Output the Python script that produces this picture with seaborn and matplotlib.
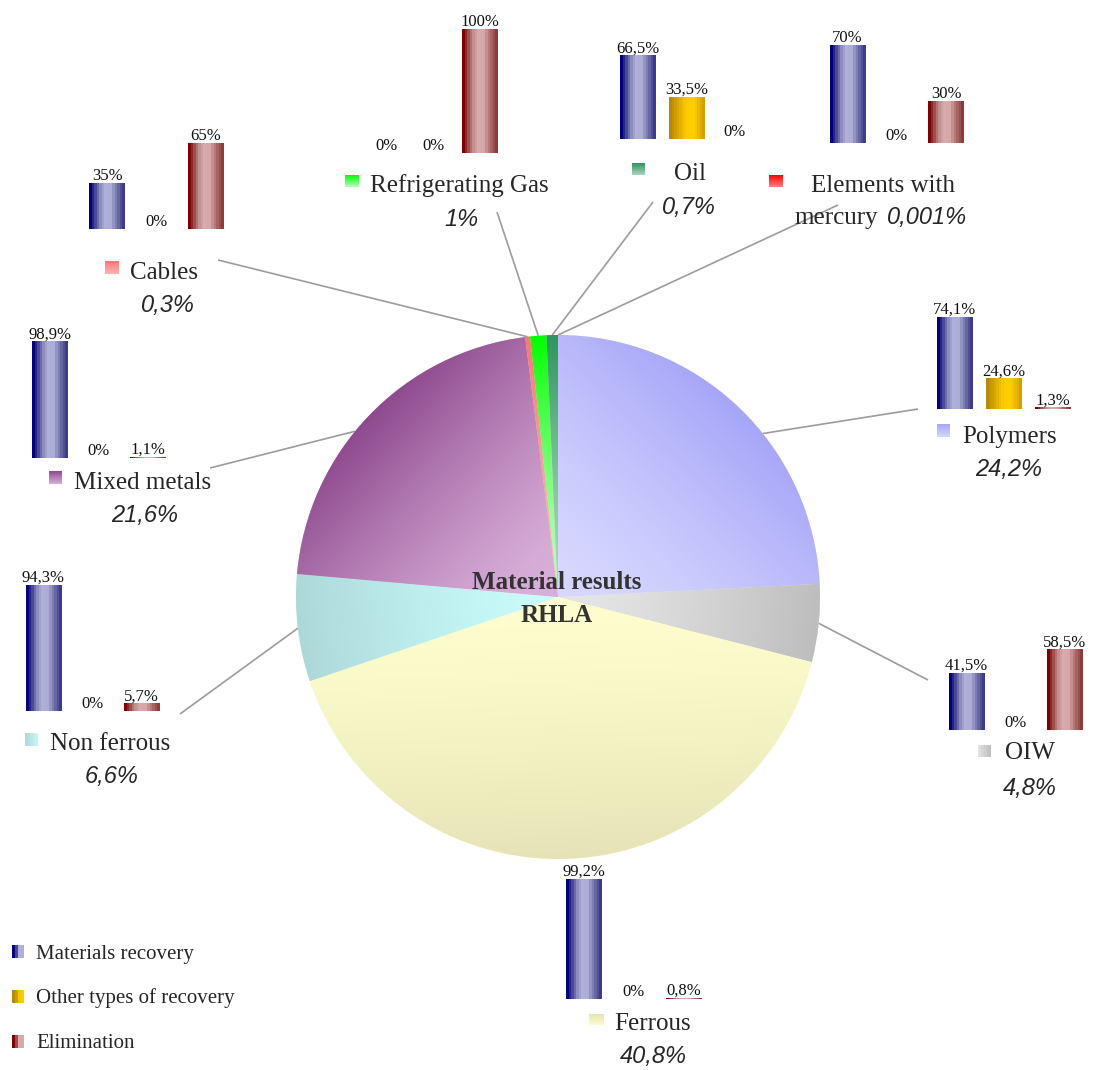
import numpy as np
import pandas as pd
import matplotlib
matplotlib.use("Agg")
import matplotlib.pyplot as plt
from matplotlib.colors import LinearSegmentedColormap
import seaborn as sns

# ---------------- data ----------------
categories = ["Polymers", "OIW", "Ferrous", "Non ferrous", "Mixed metals",
              "Cables", "Refrigerating Gas", "Oil", "Elements with mercury"]
shares = [24.2, 4.8, 40.8, 6.6, 21.6, 0.3, 1.0, 0.7, 0.001]

treatments = ["Materials recovery", "Other types of recovery", "Elimination"]
polymers_split = [74.1, 24.6, 1.3]
oiw_split = [41.5, 0.0, 58.5]
ferrous_split = [99.2, 0.0, 0.8]
non_ferrous_split = [94.3, 0.0, 5.7]
mixed_metals_split = [98.9, 0.0, 1.1]
cables_split = [35.0, 0.0, 65.0]
refrigerating_gas_split = [0.0, 0.0, 100.0]
oil_split = [66.5, 33.5, 0.0]
mercury_split = [70.0, 0.0, 30.0]

splits = {
    "Polymers": polymers_split, "OIW": oiw_split, "Ferrous": ferrous_split,
    "Non ferrous": non_ferrous_split, "Mixed metals": mixed_metals_split,
    "Cables": cables_split, "Refrigerating Gas": refrigerating_gas_split,
    "Oil": oil_split, "Elements with mercury": mercury_split,
}

# ---------------- styling ----------------
W, H = 1093, 1070
sns.set_theme(style="white")
plt.rcParams["font.family"] = ["Liberation Serif", "DejaVu Serif"]
SERIF = ["Liberation Serif", "DejaVu Serif"]
SANS = ["Liberation Sans", "DejaVu Sans"]

# pie slice gradients: (near centre, rim)
slice_shades = {
    "Polymers": ("#d6d6ff", "#a6a6f8"),
    "OIW": ("#e4e4e4", "#bdbdbd"),
    "Ferrous": ("#fcfccc", "#e6e4b6"),
    "Non ferrous": ("#c8fafa", "#acd8d8"),
    "Mixed metals": ("#d8aed8", "#8e4a8e"),
    "Cables": ("#ffb4b4", "#ff7474"),
    "Refrigerating Gas": ("#b4ffb4", "#00ff00"),
    "Oil": ("#a8d4b8", "#2e9460"),
    "Elements with mercury": ("#ff8080", "#ff0000"),
}

treatment_bands = {
    "Materials recovery": [(0, "#000080"), (0.12, "#3a3a8c"), (0.3, "#8c8cbc"),
                           (0.45, "#b0b0d8"), (0.62, "#acacd4"), (0.8, "#7474ac"),
                           (1, "#3c3c8c")],
    "Other types of recovery": [(0, "#b88a00"), (0.25, "#dcaa00"), (0.5, "#ffcc00"),
                                (0.72, "#ffcc00"), (1, "#d4a200")],
    "Elimination": [(0, "#800000"), (0.12, "#984040"), (0.3, "#c09090"),
                    (0.45, "#d8acac"), (0.62, "#d4a8a8"), (0.8, "#b07070"),
                    (1, "#8c3c3c")],
}
treatment_cmaps = {k: LinearSegmentedColormap.from_list(k, v)
                   for k, v in treatment_bands.items()}
treatment_palette = {k: treatment_cmaps[k](0.5) for k in treatments}

# pie geometry (pixels from top-left)
CX, CY, R = 558, 597, 262

# bar inset geometry: first bar centre, bar pitch, baseline, pixels per 100 %
BAR_PX = 36
bar_layout = {
    "Polymers": (954.5, 49, 409, 124),
    "OIW": (966.5, 49, 730, 138),
    "Ferrous": (583.5, 50, 999, 121),
    "Non ferrous": (43.5, 49, 711, 134),
    "Mixed metals": (50, 49, 458, 118),
    "Cables": (107, 49.5, 229, 132),
    "Refrigerating Gas": (387, 46.5, 153, 124),
    "Oil": (638, 48.5, 139, 126),
    "Elements with mercury": (847.5, 49.5, 143, 140),
}

# label layout: marker box (x0, x1, y0, y1), name (x, baseline), pct (x, baseline, ha)
label_layout = {
    "Polymers": ((937, 950, 424, 437), (962, 443), (1009, 476, "center")),
    "OIW": ((978, 991, 745, 757), (1005, 759), (1030, 795, "center")),
    "Ferrous": ((589, 604, 1014, 1025), (614, 1030), (653, 1063, "center")),
    "Non ferrous": ((25, 38, 733, 746), (50, 750), (112, 783, "center")),
    "Mixed metals": ((49, 62, 471, 484), (74, 489), (145, 522, "center")),
    "Cables": ((105, 119, 261, 274), (130, 279), (168, 312, "center")),
    "Refrigerating Gas": ((345, 359, 175, 187), (370, 192), (461, 226, "center")),
    "Oil": ((632, 645, 163, 175), (674, 180), (689, 214, "center")),
    "Elements with mercury": ((769, 783, 175, 187), (811, 192), (887, 224, "left")),
}

# leader lines: outer end (pixels) and position inside the wedge (0..1 clockwise)
leaders = {
    "Polymers": ((918, 409), 0.59),
    "OIW": ((928, 680), 0.5),
    "Non ferrous": ((180, 714), 0.5),
    "Mixed metals": ((210, 468), 0.44),
    "Cables": ((218, 260), 0.5),
    "Refrigerating Gas": ((497, 212), 0.5),
    "Oil": ((653, 202), 0.5),
    "Elements with mercury": ((838, 205), 0.5),
}


def Y(py):
    return H - py


def pct_text(v):
    return f"{v:g}".replace(".", ",") + "%"


fig = plt.figure(figsize=(W / 100, H / 100), dpi=100)
ax = fig.add_axes([0, 0, 1, 1])

# ---------------- pie ----------------
wedges, _ = ax.pie(shares, startangle=90, counterclock=False,
                   center=(CX, Y(CY)), radius=R,
                   colors=[slice_shades[c][0] for c in categories],
                   wedgeprops=dict(linewidth=0))

n = 2 * R
gx, gy = np.meshgrid(np.linspace(CX - R, CX + R, n), np.linspace(Y(CY) - R, Y(CY) + R, n))
for cat, wedge in zip(categories, wedges):
    mid = np.deg2rad(0.5 * (wedge.theta1 + wedge.theta2))
    t = ((gx - CX) * np.cos(mid) + (gy - Y(CY)) * np.sin(mid)) / R
    t = np.clip((t - 0.1) / 0.9, 0, 1) ** 1.3
    cmap = LinearSegmentedColormap.from_list(cat, slice_shades[cat])
    im = ax.imshow(cmap(t), extent=[CX - R, CX + R, Y(CY) - R, Y(CY) + R],
                   origin="lower", interpolation="bilinear", zorder=2, aspect="auto")
    im.set_clip_path(wedge)

# leader lines from the rim of each wedge
wedge_of = dict(zip(categories, wedges))
for cat, ((lx, ly), frac) in leaders.items():
    w = wedge_of[cat]
    ang = np.deg2rad(w.theta2 - frac * (w.theta2 - w.theta1))
    px, py = CX + R * np.cos(ang), Y(CY) + R * np.sin(ang)
    ax.plot([lx, px], [Y(ly), py], color="#9c9c9c", lw=1.2, zorder=1,
            solid_capstyle="butt")

# centre title
ax.text(CX - 1, Y(589), "Material results", ha="center", va="baseline",
        fontsize=18, fontweight="bold", color="#333333", family=SERIF, zorder=5)
ax.text(CX - 1, Y(622), "RHLA", ha="center", va="baseline",
        fontsize=18, fontweight="bold", color="#333333", family=SERIF, zorder=5)


def gradient_box(axis, x0, x1, y0, y1, colors, horizontal=False, bands=None, z=4):
    cmap = LinearSegmentedColormap.from_list("g", colors)
    if horizontal:
        arr = cmap(np.linspace(0, 1, bands or 32))[None, :, :]
    else:
        arr = cmap(np.linspace(0, 1, bands or 32))[:, None, :]
    axis.imshow(arr, extent=[x0, x1, y0, y1], origin="upper" if not horizontal else "lower",
                aspect="auto", interpolation="nearest", zorder=z)


# category labels
marker_dirs = {"OIW": True, "Non ferrous": True}
for cat in categories:
    (mx0, mx1, my0, my1), (nx, ny), (qx, qy, qha) = label_layout[cat]
    light, dark = slice_shades[cat]
    if marker_dirs.get(cat, False):
        gradient_box(ax, mx0, mx1, Y(my1), Y(my0), [light, dark] if cat == "OIW" else [dark, light],
                     horizontal=True)
    else:
        gradient_box(ax, mx0, mx1, Y(my1), Y(my0), [dark, light])
    if cat == "Elements with mercury":
        ax.text(nx, Y(ny), "Elements with", ha="left", va="baseline",
                fontsize=18, family=SERIF, zorder=5)
        ax.text(794, Y(qy), "mercury", ha="left", va="baseline",
                fontsize=18, family=SERIF, zorder=5)
    else:
        ax.text(nx, Y(ny), cat, ha="left", va="baseline",
                fontsize=18, family=SERIF, zorder=5)
    share = shares[categories.index(cat)]
    ax.text(qx, Y(qy), pct_text(share), ha=qha, va="baseline", fontsize=17,
            style="italic", family=SANS, zorder=5)

# legend
legend_rows = [(945, 958, 959), (990, 1003, 1003), (1035, 1048, 1048)]
for tr, (y0, y1, base) in zip(treatments, legend_rows):
    cm = treatment_cmaps[tr]
    gradient_box(ax, 12, 24, Y(y1), Y(y0), [cm(0.0), cm(0.15), cm(0.45), cm(0.5)],
                 horizontal=True, bands=4)
    ax.text(36, Y(base), tr, ha="left", va="baseline", fontsize=15, family=SERIF)

ax.set_xlim(0, W)
ax.set_ylim(0, H)
ax.set_aspect("auto")
ax.axis("off")

# ---------------- treatment bars ----------------
for cat in categories:
    values = splits[cat]
    c1, pitch, base, scale = bar_layout[cat]
    bax = fig.add_axes([(c1 - pitch / 2) / W, (H - base) / H, 3 * pitch / W, scale / H])
    df = pd.DataFrame({"treatment": treatments, "share": values})
    sns.barplot(data=df, x="treatment", y="share", hue="treatment",
                palette=treatment_palette, dodge=False, width=BAR_PX / pitch,
                errorbar=None, legend=False, saturation=1, ax=bax)
    for patch in list(bax.patches):
        h = patch.get_height()
        if h <= 0:
            continue
        x0, w = patch.get_x(), patch.get_width()
        idx = int(round(x0 + w / 2))
        cm = treatment_cmaps[treatments[idx]]
        arr = cm(np.linspace(0, 1, 14))[None, :, :]
        im = bax.imshow(arr, extent=[x0, x0 + w, 0, h], aspect="auto",
                        interpolation="nearest", zorder=3)
        im.set_clip_path(patch)
    for i, v in enumerate(values):
        bax.annotate(pct_text(v), xy=(i, v), xytext=(0, 2.2), textcoords="offset points",
                     ha="center", va="baseline", fontsize=12, family=SERIF,
                     color="#111111", annotation_clip=False)
    bax.set_xlim(-0.5, 2.5)
    bax.set_ylim(0, 100)
    bax.axis("off")

fig.savefig("out.png", dpi=100)
